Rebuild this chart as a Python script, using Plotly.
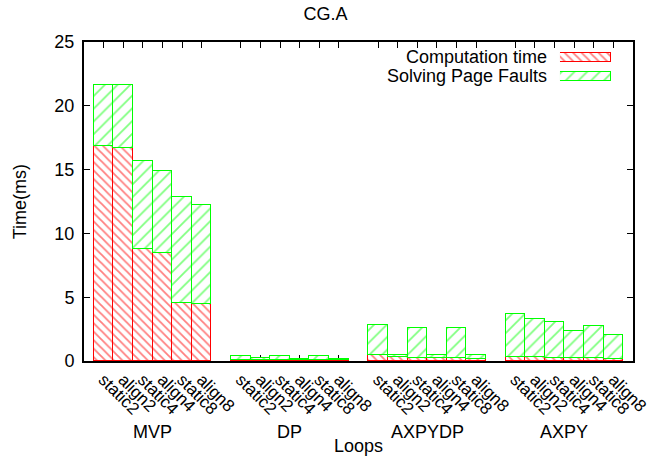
import plotly.graph_objects as go

groups = ["MVP", "DP", "AXPYDP", "AXPY"]
variants = ["static2", "align2", "static4", "align4", "static8", "align8"]

mvp_comp = [16.85, 16.7, 8.75, 8.5, 4.55, 4.45]
mvp_fault = [4.75, 4.95, 6.9, 6.4, 8.3, 7.8]
dp_comp = [0.1, 0.05, 0.1, 0.05, 0.1, 0.05]
dp_fault = [0.28, 0.15, 0.32, 0.12, 0.32, 0.07]
axpydp_comp = [0.45, 0.3, 0.25, 0.2, 0.2, 0.15]
axpydp_fault = [2.4, 0.15, 2.3, 0.25, 2.35, 0.3]
axpy_comp = [0.35, 0.3, 0.25, 0.2, 0.2, 0.15]
axpy_fault = [3.35, 3.0, 2.8, 2.15, 2.55, 1.85]

series_names = ["Computation time", "Solving Page Faults"]

comp_all = mvp_comp + dp_comp + axpydp_comp + axpy_comp
fault_all = mvp_fault + dp_fault + axpydp_fault + axpy_fault

GAP = len(variants) + 1
xpos = [g * GAP + v for g in range(len(groups)) for v in range(len(variants))]
ticktext = [v for g in groups for v in variants]

FONT = "Liberation Sans, Arial, Helvetica, sans-serif"
FS = 18
RED = "#ff0000"
GREEN = "#00ff00"

red_marker = dict(color="white", line=dict(color=RED, width=1),
                  pattern=dict(shape="\\", fgcolor=RED, bgcolor="white", size=6, solidity=0.3))
green_marker = dict(color="white", line=dict(color=GREEN, width=1),
                    pattern=dict(shape="/", fgcolor=GREEN, bgcolor="white", size=9, solidity=0.2))

fig = go.Figure()
fig.add_trace(go.Bar(x=xpos, y=comp_all, name=series_names[0], width=1,
                     marker=red_marker, showlegend=False))
fig.add_trace(go.Bar(x=xpos, y=fault_all, name=series_names[1], width=1,
                     marker=green_marker, showlegend=False))

# key samples (gnuplot style: text left of sample) drawn on an inset axis
fig.add_trace(go.Bar(x=[1], y=[0], orientation="h", width=0.5, xaxis="x2", yaxis="y2",
                     marker=red_marker, showlegend=False, hoverinfo="skip"))
fig.add_trace(go.Bar(x=[1], y=[1], orientation="h", width=0.5, xaxis="x2", yaxis="y2",
                     marker=green_marker, showlegend=False, hoverinfo="skip"))

KEY_TOP, KEY_BOT = 0.981, 0.863
for i, name in enumerate(series_names):
    yk = KEY_TOP - (i + 0.5) * (KEY_TOP - KEY_BOT) / len(series_names)
    fig.add_annotation(x=0.867, y=yk, xref="paper", yref="paper", text=name, showarrow=False,
                       xanchor="right", yanchor="middle", xshift=-11,
                       font=dict(size=FS, color="black", family=FONT))

for gi, g in enumerate(groups):
    fig.add_annotation(x=gi * GAP + (len(variants) - 1) / 2, y=-0.224, xref="x", yref="paper",
                       text=g, showarrow=False, font=dict(size=FS, color="black", family=FONT),
                       xanchor="center", yanchor="middle")

fig.add_annotation(x=0.5, y=-0.268, xref="paper", yref="paper", text="Loops", showarrow=False,
                   font=dict(size=FS, color="black", family=FONT), xanchor="center", yanchor="middle")
fig.add_annotation(x=-0.117, y=0.5, xref="paper", yref="paper", text="Time(ms)", showarrow=False,
                   textangle=-90, font=dict(size=FS, color="black", family=FONT),
                   xanchor="center", yanchor="middle")

fig.update_layout(
    width=651, height=456,
    margin=dict(l=84, r=18, t=42, b=95, autoexpand=False),
    paper_bgcolor="white", plot_bgcolor="white",
    barmode="stack", bargap=0,
    font=dict(family=FONT, size=FS, color="black"),
    title=dict(text="CG.A", x=0.5, xanchor="center", y=1 - 14 / 456, yanchor="middle",
               font=dict(size=FS, family=FONT, color="black")),
    xaxis=dict(range=[-1, 27], tickvals=xpos, ticktext=ticktext, tickangle=45,
               ticks="inside", ticklen=6, tickcolor="black", mirror="ticks",
               showline=True, linecolor="black", linewidth=2, showgrid=False, zeroline=False,
               tickfont=dict(size=17), layer="below traces", automargin=False),
    yaxis=dict(range=[0, 25], tickvals=[0, 5, 10, 15, 20, 25],
               ticks="inside", ticklen=6, tickcolor="black", mirror="ticks",
               showline=True, linecolor="black", linewidth=2, showgrid=False, zeroline=False,
               tickfont=dict(size=FS), ticklabelstandoff=4, layer="below traces", automargin=False),
    xaxis2=dict(domain=[0.867, 0.960], range=[0, 1], anchor="y2", showticklabels=False,
                showline=False, showgrid=False, zeroline=False, fixedrange=True, automargin=False),
    yaxis2=dict(domain=[KEY_BOT, KEY_TOP], anchor="x2", range=[1.5, -0.5], showticklabels=False,
                showline=False, showgrid=False, zeroline=False, ticks="", automargin=False),
)

fig.write_html("out.html", config={"displayModeBar": False},
               post_script="document.body.style.margin='0';")
